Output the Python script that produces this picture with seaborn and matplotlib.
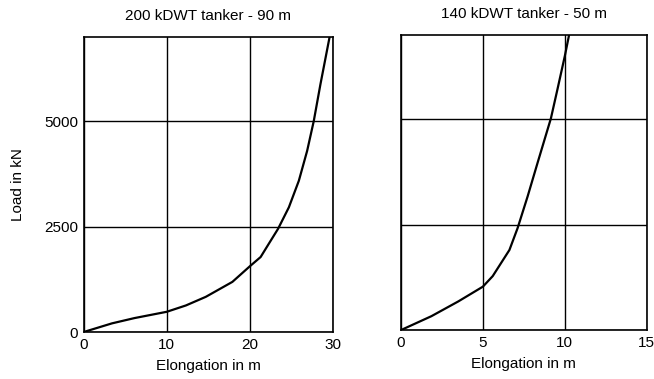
"""
Load versus elongation curves for two tanker mooring lines.
"""

import matplotlib.pyplot as plt
import pandas as pd
import seaborn as sns


# 200 kDWT tanker - 90 m line
LEFT_ELONGATION = [0, 3.4, 6.1, 10.0, 12.3, 14.7, 17.9, 20.0, 21.3, 22.3, 23.4,
                   24.7, 25.9, 26.9, 27.7, 28.5, 29.6]
LEFT_LOAD = [0, 205, 330, 480, 630, 835, 1190, 1560, 1780, 2100, 2450,
             2960, 3590, 4300, 5010, 5880, 7000]

# 140 kDWT tanker - 50 m line
RIGHT_ELONGATION = [0, 1.86, 3.5, 5.0, 5.6, 6.11, 6.62, 7.12, 7.73, 8.34, 9.15,
                    9.55, 10.0, 10.26]
RIGHT_LOAD = [0, 330, 680, 1030, 1280, 1590, 1900, 2420, 3170, 3970, 5020,
              5710, 6500, 7000]

TITLES = ["200 kDWT tanker - 90 m", "140 kDWT tanker - 50 m"]
LEFT_XTICKS = [0, 10, 20, 30]
RIGHT_XTICKS = [0, 5, 10, 15]
YTICKS = [0, 2500, 5000]


def draw_panel(ax, elongation, load, title, xticks, show_y):
    """
    Draws one load/elongation panel.
    """
    df = pd.DataFrame({"Elongation": elongation, "Load": load})

    sns.lineplot(
        data=df,
        x="Elongation",
        y="Load",
        sort=False,
        color="black",
        linewidth=1.6,
        ax=ax
    )

    ax.set_xlim(xticks[0], xticks[-1])
    ax.set_ylim(0, 7000)
    ax.set_xticks(xticks)
    ax.set_yticks(YTICKS)
    ax.grid(True, color="black", linewidth=1.0)
    ax.tick_params(length=0, labelsize=11, pad=4, labelcolor="black")

    for spine in ax.spines.values():
        spine.set_color("black")
        spine.set_linewidth(1.2)

    ax.set_title(title, fontsize=11, pad=12, color="black")
    ax.set_xlabel("Elongation in m", fontsize=11, labelpad=5, color="black")

    if show_y:
        ax.set_ylabel("Load in kN", fontsize=11, labelpad=14, color="black")
    else:
        ax.set_ylabel("")
        ax.set_yticklabels([])


def main() -> None:
    sns.set_style("white")
    plt.rcParams["font.family"] = ["Liberation Sans", "DejaVu Sans"]

    fig = plt.figure(figsize=(6.54, 3.79), dpi=100)
    ax_left = fig.add_axes([0.128, 0.124, 0.381, 0.778])
    ax_right = fig.add_axes([0.613, 0.129, 0.376, 0.779])

    draw_panel(ax_left, LEFT_ELONGATION, LEFT_LOAD, TITLES[0], LEFT_XTICKS, True)
    draw_panel(ax_right, RIGHT_ELONGATION, RIGHT_LOAD, TITLES[1], RIGHT_XTICKS, False)

    fig.savefig("out.png", dpi=100)
    plt.close(fig)


if __name__ == "__main__":
    main()
